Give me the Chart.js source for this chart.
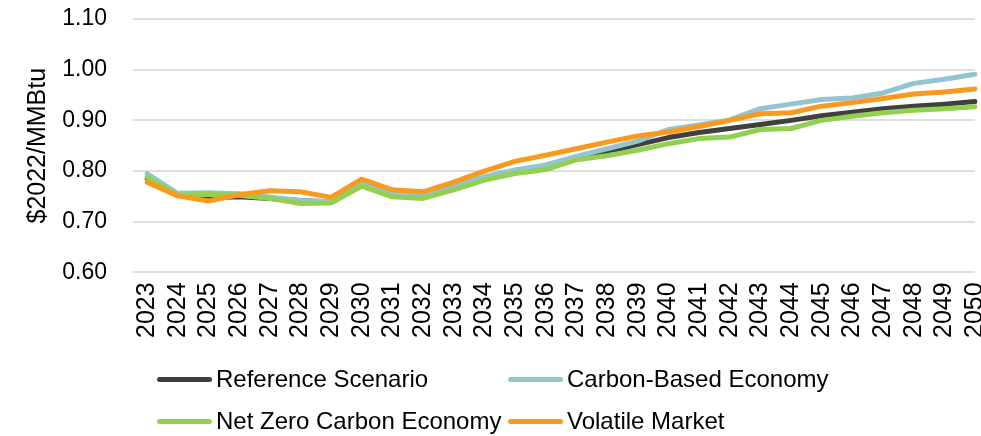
<!DOCTYPE html>
<html>
<head>
<meta charset="utf-8">
<script src="https://cdn.jsdelivr.net/npm/chart.js@4"></script>
<style>
  html, body { margin: 0; padding: 0; background: #fff; }
  #wrap { position: relative; width: 981px; height: 436px; overflow: hidden; }
  #legend { position: absolute; left: 0; top: 0; width: 981px; height: 436px; pointer-events: none;
            font-family: 'Liberation Sans', Arial, sans-serif; font-size: 24px; color: #000; }
  .item { position: absolute; display: flex; align-items: center; white-space: nowrap; }
  .swatch { width: 55px; height: 5px; border-radius: 3px; margin-right: 4px; }
</style>
</head>
<body>
<div id="wrap">
  <canvas id="c"></canvas>
  <div id="legend"></div>
</div>
<script>
const years = ['2023','2024','2025','2026','2027','2028','2029','2030','2031','2032','2033','2034','2035','2036','2037','2038','2039','2040','2041','2042','2043','2044','2045','2046','2047','2048','2049','2050'];

const referenceScenario = [0.785,0.752,0.747,0.749,0.746,0.742,0.739,0.775,0.752,0.749,0.767,0.785,0.799,0.807,0.828,0.838,0.852,0.866,0.876,0.884,0.892,0.900,0.909,0.916,0.923,0.928,0.932,0.937];
const carbonBasedEconomy = [0.795,0.756,0.757,0.755,0.749,0.742,0.740,0.776,0.755,0.752,0.770,0.789,0.802,0.812,0.829,0.844,0.859,0.882,0.891,0.901,0.923,0.932,0.941,0.944,0.954,0.973,0.981,0.991];
const netZeroCarbonEconomy = [0.788,0.752,0.754,0.752,0.746,0.736,0.737,0.770,0.749,0.746,0.763,0.782,0.795,0.803,0.822,0.830,0.841,0.854,0.864,0.867,0.882,0.884,0.900,0.908,0.915,0.920,0.923,0.927];
const volatileMarket = [0.778,0.751,0.741,0.753,0.761,0.759,0.748,0.784,0.763,0.759,0.778,0.800,0.819,0.831,0.844,0.857,0.869,0.877,0.888,0.900,0.913,0.915,0.928,0.935,0.943,0.952,0.956,0.962];

const seriesNames = ['Reference Scenario','Carbon-Based Economy','Net Zero Carbon Economy','Volatile Market'];
const seriesColors = ['#404040','#93C4D0','#92D050','#F79A1E'];
const seriesData = [referenceScenario, carbonBasedEconomy, netZeroCarbonEconomy, volatileMarket];

const yMin = 0.60, yMax = 1.10, yStep = 0.10;
const yTitle = '$2022/MMBtu';
const FONT = "'Liberation Sans', Arial, sans-serif";

const datasets = seriesNames.map((name, i) => ({
  label: name,
  data: seriesData[i],
  borderColor: seriesColors[i],
  backgroundColor: seriesColors[i],
  borderWidth: 5,
  pointRadius: 0,
  tension: 0,
  fill: false,
  borderCapStyle: 'round',
  borderJoinStyle: 'round',
  order: seriesNames.length - i
}));

new Chart(document.getElementById('c'), {
  type: 'line',
  data: { labels: years, datasets },
  options: {
    responsive: true,
    maintainAspectRatio: false,
    animation: false,
    layout: { padding: { left: 23, right: 6, top: 19, bottom: 88 } },
    plugins: { legend: { display: false }, tooltip: { enabled: false } },
    scales: {
      x: {
        offset: false,
        grid: { display: false, drawTicks: false },
        border: { display: false },
        ticks: { minRotation: 90, maxRotation: 90, autoSkip: false, padding: 10, color: '#000', font: { family: FONT, size: 25 } },
        afterFit: (s) => { s.paddingRight = 0; s.paddingLeft = 0; }
      },
      y: {
        min: yMin, max: yMax,
        grid: { color: '#dedede', lineWidth: 2, tickLength: 14, drawTicks: true, tickColor: '#dedede' },
        border: { display: false },
        ticks: { stepSize: yStep, padding: 26, color: '#000', font: { family: FONT, size: 23 },
                 callback: (v) => Number(v).toFixed(2) },
        title: { display: true, text: yTitle, color: '#000', font: { family: FONT, size: 25 }, padding: { top: 0, bottom: 0 } },
        afterFit: (s) => { s.width = 124; s.paddingTop = 0; s.paddingBottom = 0; }
      }
    }
  }
});

// HTML legend built from the series arrays (two columns, two rows)
const legend = document.getElementById('legend');
const colX = [157, 508];
const rowY = [379, 421];
seriesNames.forEach((name, i) => {
  const d = document.createElement('div');
  d.className = 'item';
  d.style.left = colX[i % 2] + 'px';
  d.style.top = (rowY[Math.floor(i / 2)] - 14) + 'px';
  d.style.height = '28px';
  const sw = document.createElement('span');
  sw.className = 'swatch';
  sw.style.background = seriesColors[i];
  const t = document.createElement('span');
  t.textContent = name;
  d.appendChild(sw); d.appendChild(t);
  legend.appendChild(d);
});
</script>
</body>
</html>
